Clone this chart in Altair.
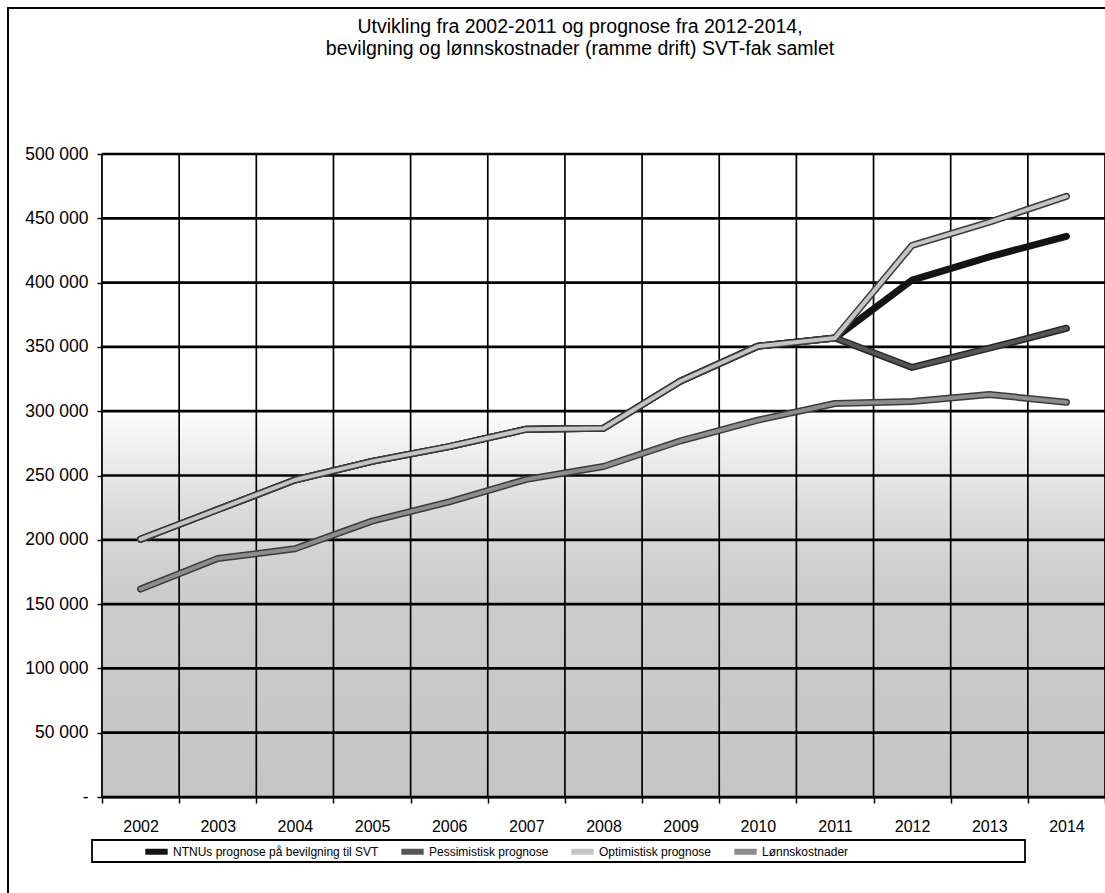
import altair as alt
import pandas as pd

# ---------------- data ----------------
years = list(range(2002, 2015))
history = [200500, 223500, 246500, 261000, 272500, 286000, 286800, 323500, 350500, 357000]
ntnu_forecast = [402000, 420000, 436000]
pess_forecast = [334000, 349000, 364500]
opt_forecast = [429000, 447000, 467000]
lonn = [161700, 185500, 193000, 214500, 229500, 247000, 257000, 277000, 293000, 306000, 307500, 313000, 307000]

series_names = [
    "NTNUs prognose på bevilgning til SVT",
    "Pessimistisk prognose",
    "Optimistisk prognose",
    "Lønnskostnader",
]
series_colors = ["#141414", "#555555", "#c4c4c4", "#8c8c8c"]
outline_colors = ["#141414", "#262626", "#3c3c3c", "#3a3a3a"]

y_ticks = list(range(0, 500001, 50000))
title_lines = [
    "Utvikling fra 2002-2011 og prognose fra 2012-2014,",
    "bevilgning og lønnskostnader (ramme drift) SVT-fak samlet",
]

series_values = {
    series_names[0]: history + ntnu_forecast,
    series_names[1]: history + pess_forecast,
    series_names[2]: history + opt_forecast,
    series_names[3]: lonn,
}
rows = []
for name in series_names:
    for yr, v in zip(years, series_values[name]):
        rows.append({"year": yr, "value": v, "series": name})
df = pd.DataFrame(rows)

boundaries = [yr - 0.5 for yr in years] + [years[-1] + 0.5]
W, H = 1003, 643
FONT = "Liberation Sans"

x_scale = alt.Scale(domain=[boundaries[0], boundaries[-1]], nice=False, zero=False)
y_scale = alt.Scale(domain=[0, 500000], nice=False)

x_axis = alt.Axis(
    values=boundaries, title=None, grid=False, ticks=True, tickSize=6, tickColor="black",
    tickWidth=1.5, domainColor="black", domainWidth=2,
    labelExpr="datum.value < 2014 ? format(datum.value + 0.5, 'd') : ''",
    labelOffset=W / 13 / 2, labelOverlap=False, labelFlush=False, labelPadding=15,
    labelFontSize=16, labelColor="black", labelFont=FONT,
)
y_axis = alt.Axis(
    values=y_ticks, title=None, grid=False, ticks=True, tickSize=5, tickColor="black",
    tickWidth=1.5, domainColor="black", domainWidth=2,
    labelExpr="datum.value == 0 ? '-' : replace(format(datum.value, ',d'), ',', ' ')",
    labelPadding=9, labelFontSize=17.5, labelColor="black", labelFont=FONT,
)

dummy = pd.DataFrame({"a": [0]})

background = alt.Chart(dummy).mark_rect(
    fill=alt.Gradient(
        gradient="linear", x1=0, x2=0, y1=0, y2=1,
        stops=[
            alt.GradientStop(color="#ffffff", offset=0),
            alt.GradientStop(color="#ffffff", offset=0.39),
            alt.GradientStop(color="#efefef", offset=0.46),
            alt.GradientStop(color="#dadada", offset=0.56),
            alt.GradientStop(color="#cccccc", offset=0.68),
            alt.GradientStop(color="#c5c5c5", offset=1),
        ],
    )
).encode(x=alt.value(0), x2=alt.value(W), y=alt.value(0), y2=alt.value(H))

vgrid = alt.Chart(pd.DataFrame({"b": boundaries})).mark_rule(color="black", strokeWidth=1.7).encode(
    x=alt.X("b:Q", scale=x_scale, axis=x_axis)
)
hgrid = alt.Chart(pd.DataFrame({"v": y_ticks})).mark_rule(color="black", strokeWidth=2.7).encode(
    y=alt.Y("v:Q", scale=y_scale, axis=y_axis)
)

color = alt.Color(
    "series:N",
    scale=alt.Scale(domain=series_names, range=series_colors),
    legend=alt.Legend(
        orient="none", legendX=40, legendY=H + 40, direction="horizontal", columns=4, title=None,
        symbolType="stroke", symbolStrokeWidth=6, symbolSize=500, labelFontSize=12,
        labelFont=FONT, labelColor="black", columnPadding=10, labelLimit=400, padding=0,
        labelOffset=2,
    ),
)

line_layers = []
for name, oc in zip(series_names, outline_colors):
    base = alt.Chart(df).transform_filter(alt.datum.series == name)
    outline = base.mark_line(strokeWidth=7, color=oc, strokeJoin="round", strokeCap="round").encode(
        x=alt.X("year:Q", scale=x_scale, axis=x_axis),
        y=alt.Y("value:Q", scale=y_scale, axis=y_axis),
    )
    inner = base.mark_line(strokeWidth=4, strokeJoin="round", strokeCap="round").encode(
        x=alt.X("year:Q", scale=x_scale, axis=x_axis),
        y=alt.Y("value:Q", scale=y_scale, axis=y_axis),
        color=color,
    )
    line_layers += [outline, inner]

legend_box = alt.Chart(dummy).mark_rect(filled=False, stroke="black", strokeWidth=1.8).encode(
    x=alt.value(-10), x2=alt.value(923), y=alt.value(H + 43), y2=alt.value(H + 65)
)
outer_border = alt.Chart(dummy).mark_rect(filled=False, stroke="black", strokeWidth=2).encode(
    x=alt.value(-94), x2=alt.value(1010), y=alt.value(-146), y2=alt.value(H + 200)
)

title_text = alt.Chart(dummy).mark_text(
    text="\n".join(title_lines), lineBreak="\n", lineHeight=22, fontSize=19.5, font=FONT,
    color="black", align="center", baseline="middle",
).encode(x=alt.value(580 - 102), y=alt.value(27 - 154))

chart = alt.layer(
    background, vgrid, hgrid, *line_layers, legend_box, outer_border, title_text
).properties(
    width=W,
    height=H,
    padding={"left": 102, "top": 154, "right": 0, "bottom": 96},
    autosize=alt.AutoSizeParams(type="none"),
    background="white",
).configure_view(stroke=None)

chart.save("out.html", embed_options={"renderer": "svg", "actions": False})
